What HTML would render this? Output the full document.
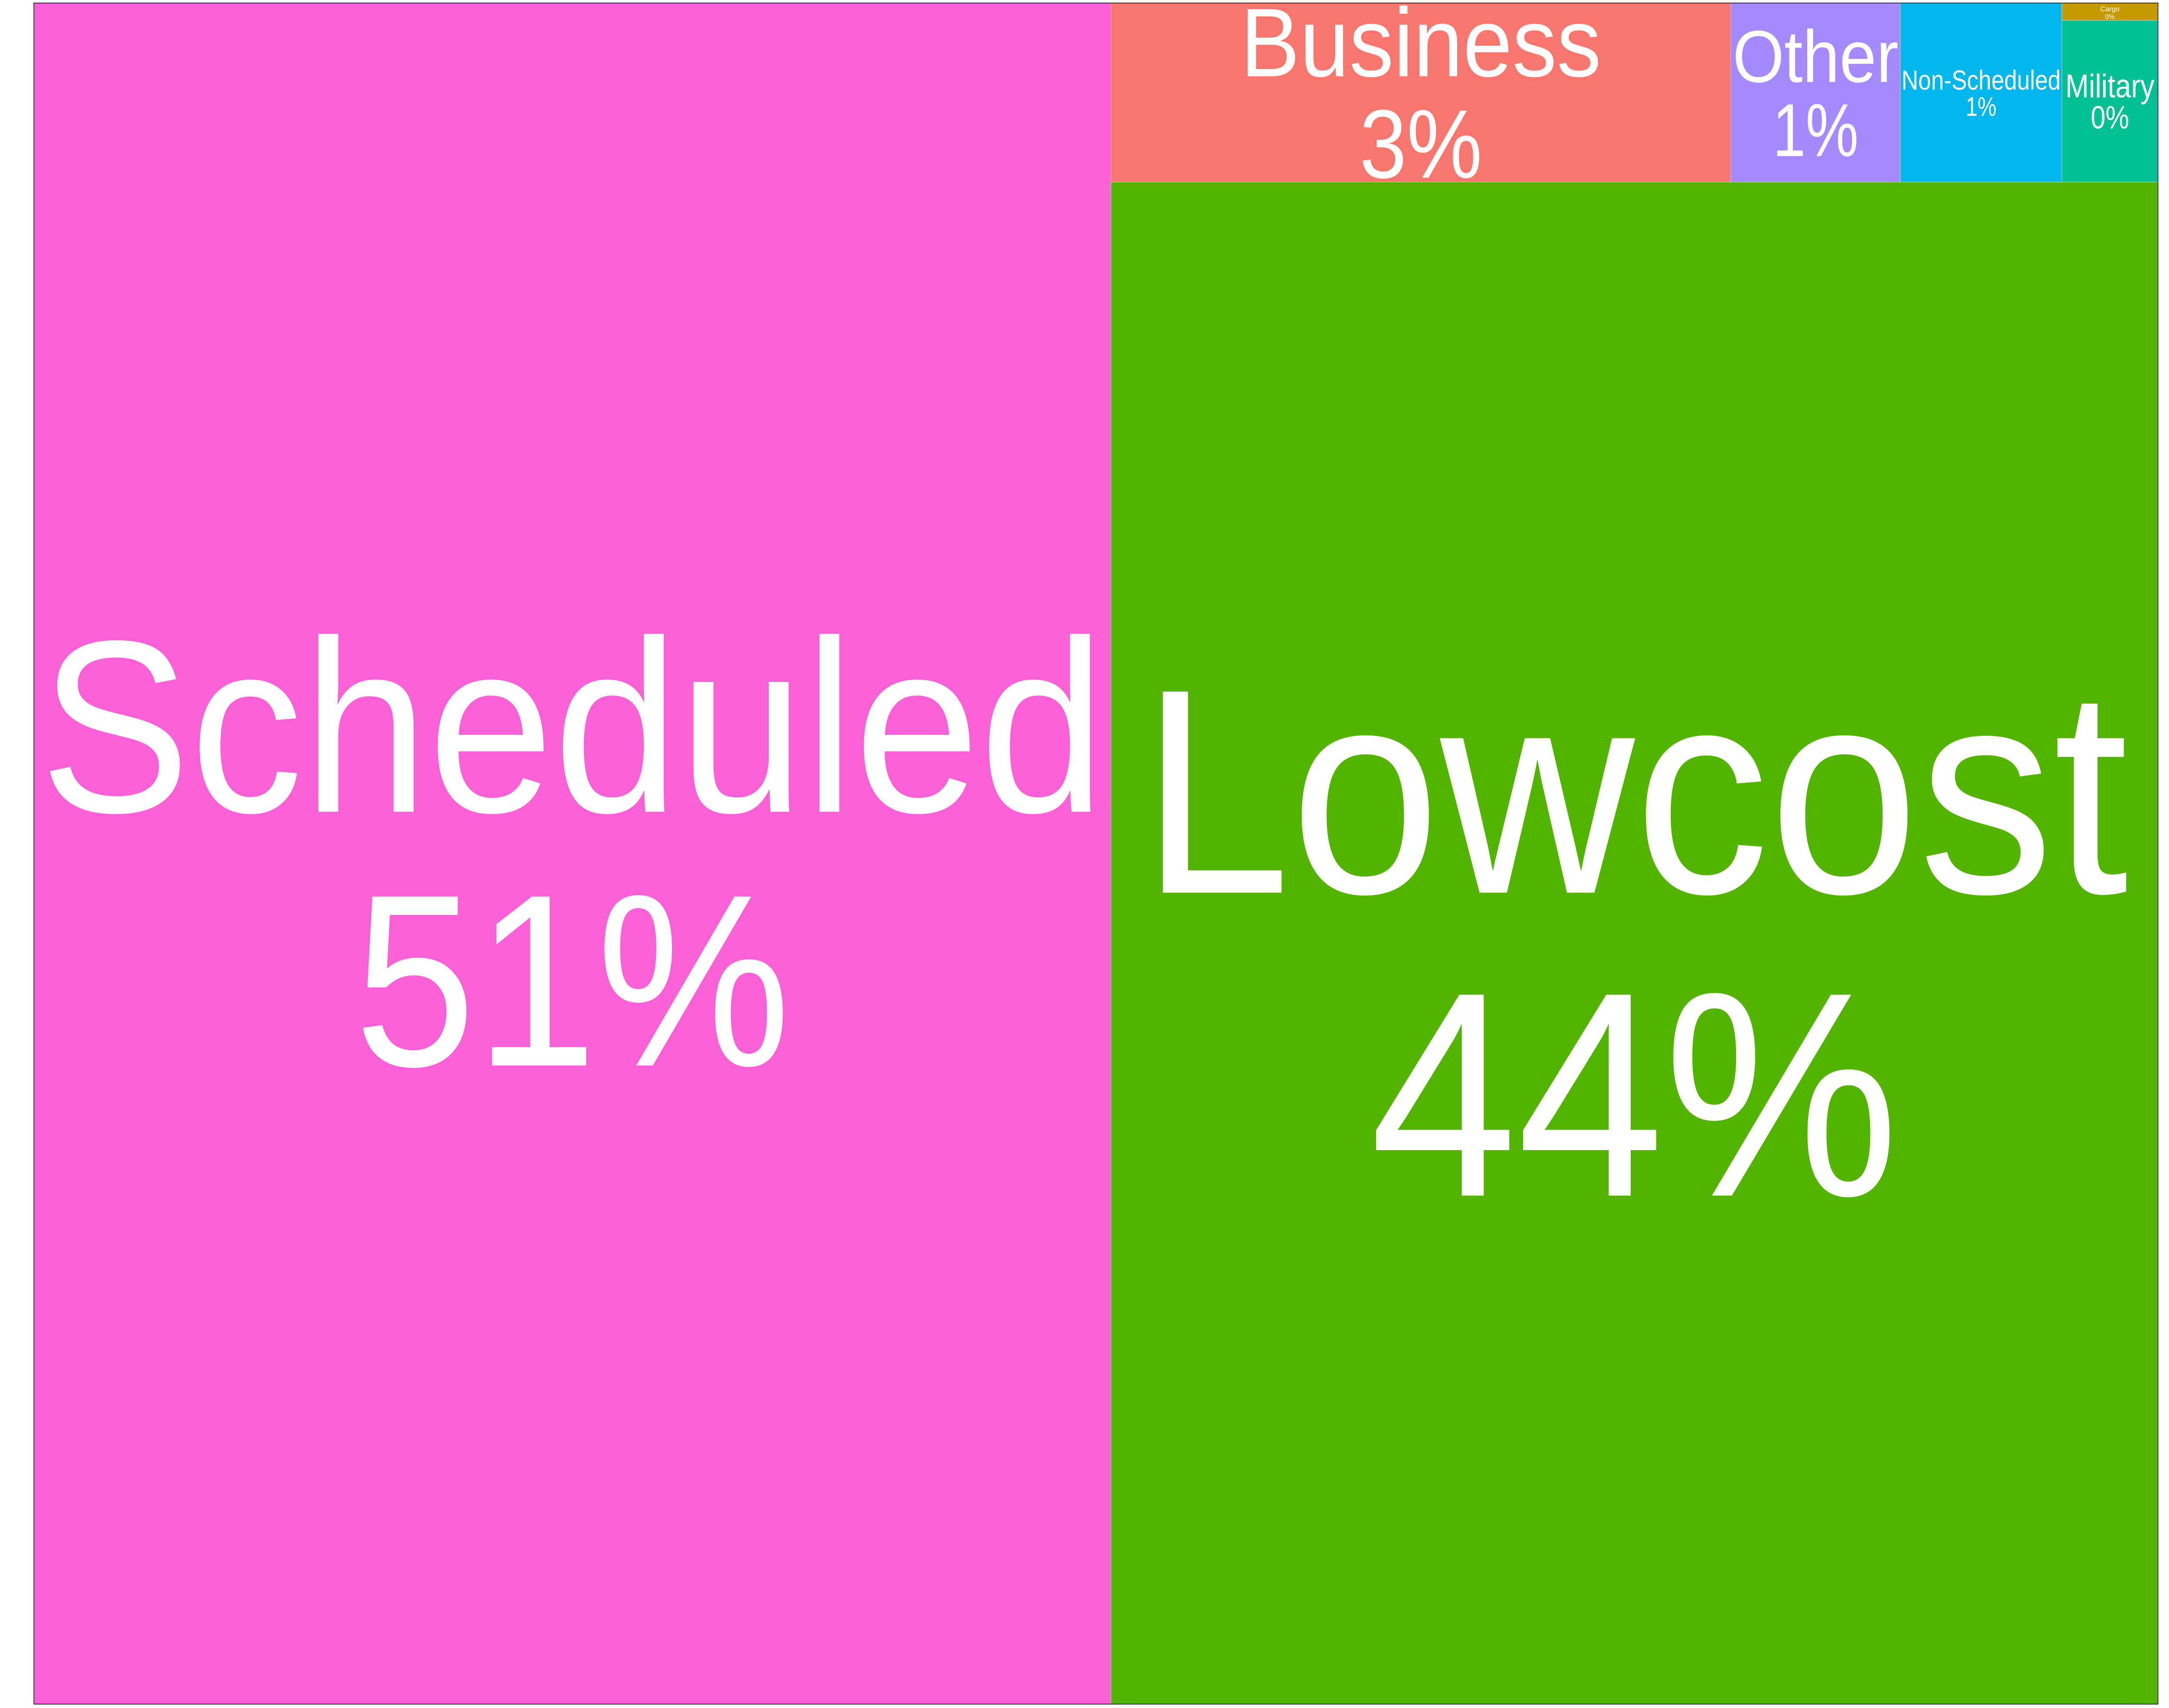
<!DOCTYPE html>
<html>
<head>
<meta charset="utf-8">
<style>
html,body{margin:0;padding:0;background:#fff;overflow:hidden;width:100%;height:100%;}
svg{display:block;position:fixed;left:0;top:0;width:100vw;height:100vh;}
text{font-family:"Liberation Sans",Arial,sans-serif;fill:#fff;}
</style>
</head>
<body>
<svg id="chart" viewBox="0 0 5314 3937" preserveAspectRatio="none" xmlns="http://www.w3.org/2000/svg"></svg>
<script>
// ---- data ----
const categories = ["Scheduled","Lowcost","Business","Other","Non-Scheduled","Military","Cargo"];
const shares = [50.7, 44.1, 3.07, 0.84, 0.80, 0.43, 0.046];
const percentLabels = ["51%","44%","3%","1%","1%","0%","0%"];

// ---- styles (not data) ----
const colors = {"Scheduled":"#FB61D7","Lowcost":"#53B400","Business":"#F8766D","Other":"#A58AFF","Non-Scheduled":"#00B6EB","Military":"#00C094","Cargo":"#C49A00"};
// [nameFont, nameBaselineFrac, nameWidthFrac, pctFont, pctBaselineFrac, pctWidthFrac]
const labelStyle = {
  "Scheduled":[566,0.4754,0.989,566,0.6246,0.405],
  "Lowcost":[674,0.4669,0.943,673,0.6659,0.505],
  "Business":[225,0.409,0.582,225,0.976,0.198],
  "Other":[170,0.441,0.978,173,0.855,0.506],
  "Non-Scheduled":[63,0.484,0.985,62,0.63,0.19],
  "Military":[76,0.477,0.927,74,0.668,0.40],
  "Cargo":[16,0.475,0.20,16,0.925,0.10]
};
const X0 = 83, Y0 = 7, X1 = 5287, Y1 = 3928;

const svg = document.getElementById('chart');
const NS = "http://www.w3.org/2000/svg";

function layout(){
  const W = X1 - X0, H = Y1 - Y0;
  const total = shares.reduce((a,b)=>a+b,0);
  const rects = [];
  const w0 = W * shares[0] / total;
  rects.push({x:X0, y:Y0, w:w0, h:H});
  const restTotal = total - shares[0];
  const rx = X0 + w0, rw = W - w0;
  const rowSum = shares.slice(2).reduce((a,b)=>a+b,0);
  const rowH = H * rowSum / restTotal;
  rects[1] = {x:rx, y:Y0+rowH, w:rw, h:H-rowH};
  let cx = rx;
  for (let i = 2; i <= 4; i++) {
    const w = rw * shares[i] / rowSum;
    rects[i] = {x:cx, y:Y0, w:w, h:rowH};
    cx += w;
  }
  const lastW = rx + rw - cx;
  const colSum = shares[5] + shares[6];
  const hC = rowH * shares[6] / colSum;
  rects[6] = {x:cx, y:Y0, w:lastW, h:hC};
  rects[5] = {x:cx, y:Y0+hC, w:lastW, h:rowH-hC};
  return rects;
}

const rects = layout();
categories.forEach((cat, i) => {
  const r = rects[i];
  const slug = cat.toLowerCase().replace(/[^a-z]+/g,'-');
  const g = document.createElementNS(NS,'g');
  
  
  const rect = document.createElementNS(NS,'rect');
  rect.setAttribute('x', r.x); rect.setAttribute('y', r.y);
  rect.setAttribute('width', r.w); rect.setAttribute('height', r.h);
  rect.setAttribute('fill', colors[cat]);
  rect.setAttribute('stroke', '#d0d0d0');
  rect.setAttribute('stroke-width', '1');
  
  
  g.appendChild(rect);
  const st = labelStyle[cat];
  const cx = r.x + r.w/2;
  const t1 = document.createElementNS(NS,'text');
  t1.setAttribute('x', cx); t1.setAttribute('y', r.y + r.h*st[1]);
  t1.setAttribute('font-size', st[0]);
  t1.setAttribute('text-anchor','middle');
  t1.setAttribute('textLength', r.w*st[2]);
  t1.setAttribute('lengthAdjust','spacingAndGlyphs');
  t1.textContent = cat;
  
  
  g.appendChild(t1);
  const t2 = document.createElementNS(NS,'text');
  t2.setAttribute('x', cx); t2.setAttribute('y', r.y + r.h*st[4]);
  t2.setAttribute('font-size', st[3]);
  t2.setAttribute('text-anchor','middle');
  t2.setAttribute('textLength', r.w*st[5]);
  t2.setAttribute('lengthAdjust','spacingAndGlyphs');
  t2.textContent = percentLabels[i];
  
  
  g.appendChild(t2);
  svg.appendChild(g);
});
const frame = document.createElementNS(NS,'rect');
frame.setAttribute('x', X0); frame.setAttribute('y', Y0);
frame.setAttribute('width', X1-X0); frame.setAttribute('height', Y1-Y0);
frame.setAttribute('fill','none'); frame.setAttribute('stroke','#333');
frame.setAttribute('stroke-width','2');


svg.appendChild(frame);
</script>
</body>
</html>
